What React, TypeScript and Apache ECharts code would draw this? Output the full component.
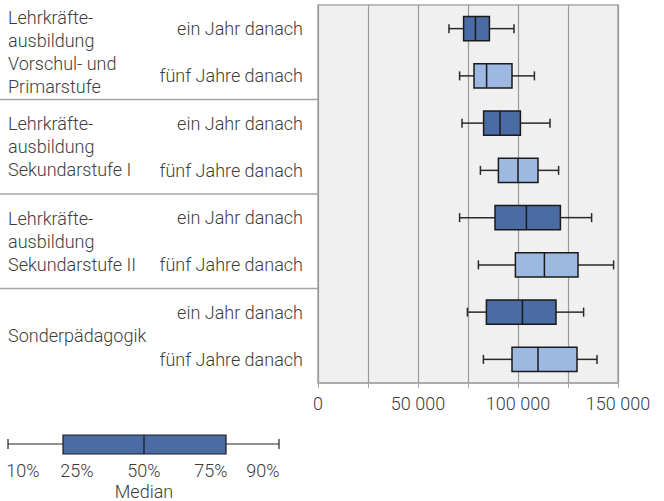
import React, { useEffect, useRef } from "react";
import * as echarts from "echarts";

const rowLabels = [
  "ein Jahr danach",
  "fünf Jahre danach",
  "ein Jahr danach",
  "fünf Jahre danach",
  "ein Jahr danach",
  "fünf Jahre danach",
  "ein Jahr danach",
  "fünf Jahre danach",
];

const groupLabels = [
  "Lehrkräfte-\nausbildung\nVorschul- und\nPrimarstufe",
  "Lehrkräfte-\nausbildung\nSekundarstufe I",
  "Lehrkräfte-\nausbildung\nSekundarstufe II",
  "Sonderpädagogik",
];

// [p10, p25, median, p75, p90]
const p10 = [65500, 70800, 72000, 81200, 70800, 80200, 74700, 82700];
const p25 = [72800, 78000, 82800, 90200, 88500, 98700, 84200, 97000];
const p50 = [78700, 84300, 91000, 100000, 104200, 113200, 102200, 110000];
const p75 = [85700, 97000, 101200, 110000, 121200, 130000, 119000, 129500];
const p90 = [98000, 108200, 116000, 120300, 136800, 147800, 132800, 139500];

const legendLabels = ["10%", "25%", "50%", "75%", "90%"];

const DARK = "#4a6ba4";
const LIGHT = "#9db9e2";
const TEXT = "#3c3c3c";
const FONT = "Roboto";
const FS = 18;

const W = 664;
const H = 501;
const GRID_LEFT = 318;
const GRID_TOP = 5;
const GRID_W = 300;
const GRID_H = 378;

function fmt(v: number) {
  return String(v).replace(/\B(?=(\d{3})+(?!\d))/g, " ");
}

export default function App() {
  const ref = useRef<HTMLDivElement>(null);
  useEffect(() => {
    if (!ref.current) return;
    const chart = echarts.init(ref.current, null, { renderer: "svg" });
    const data = rowLabels.map((_, i) => [i, p10[i], p25[i], p50[i], p75[i], p90[i]]);

    const separators = [1, 2, 3].map((k) => {
      const y = GRID_TOP + (k * GRID_H) / 4;
      return {
        type: "line",
        shape: { x1: 0, y1: y, x2: GRID_LEFT, y2: y },
        style: { stroke: "#a6a6a6", lineWidth: 1.5 },
      };
    });

    // legend key
    const lgY = 444;
    const lgLeft = 8, lgQ1 = 63, lgMed = 144, lgQ3 = 226, lgRight = 279;
    const legendEls: any[] = [
      { type: "line", shape: { x1: lgLeft, y1: lgY, x2: lgQ1, y2: lgY }, style: { stroke: "#222", lineWidth: 1.2 } },
      { type: "line", shape: { x1: lgQ3, y1: lgY, x2: lgRight, y2: lgY }, style: { stroke: "#222", lineWidth: 1.2 } },
      { type: "line", shape: { x1: lgLeft, y1: lgY - 5, x2: lgLeft, y2: lgY + 5 }, style: { stroke: "#222", lineWidth: 1.2 } },
      { type: "line", shape: { x1: lgRight, y1: lgY - 5, x2: lgRight, y2: lgY + 5 }, style: { stroke: "#222", lineWidth: 1.2 } },
      { type: "rect", shape: { x: lgQ1, y: 435, width: lgQ3 - lgQ1, height: 19 }, style: { fill: DARK, stroke: "#1a1a1a", lineWidth: 1.2 } },
      { type: "line", shape: { x1: lgMed, y1: 435, x2: lgMed, y2: 454 }, style: { stroke: "#1a1a1a", lineWidth: 1.2 } },
    ];
    const lgPos = [23, 77, 144, 211, 263];
    legendLabels.forEach((t, i) => {
      legendEls.push({
        type: "text",
        x: lgPos[i],
        y: 470,
        style: { text: t, fill: TEXT, font: `300 ${FS}px ${FONT}`, align: "center", verticalAlign: "middle" },
      });
    });
    legendEls.push({
      type: "text",
      x: 144,
      y: 491,
      style: { text: "Median", fill: TEXT, font: `300 ${FS}px ${FONT}`, align: "center", verticalAlign: "middle" },
    });

    chart.setOption({
      animation: false,
      textStyle: { fontFamily: FONT },
      grid: {
        left: GRID_LEFT,
        top: GRID_TOP,
        width: GRID_W,
        height: GRID_H,
        show: true,
        backgroundColor: "#f0f0f0",
        borderColor: "#a6a6a6",
        borderWidth: 1.5,
      },
      xAxis: {
        type: "value",
        min: 0,
        max: 150000,
        interval: 25000,
        axisLine: { show: true, lineStyle: { color: "#a6a6a6", width: 1.5 } },
        axisTick: { show: true, length: 5, lineStyle: { color: "#a6a6a6" } },
        splitLine: { show: true, lineStyle: { color: "#9a9a9a", width: 1.2 } },
        axisLabel: {
          margin: 11,
          fontSize: FS,
          fontWeight: 300,
          color: TEXT,
          formatter: (v: number) => (v % 50000 === 0 ? fmt(v) : ""),
        },
      },
      yAxis: [
        {
          type: "category",
          data: rowLabels,
          inverse: true,
          axisLine: { show: false },
          axisTick: { show: false },
          splitLine: { show: false },
          axisLabel: { interval: 0, margin: 15, fontSize: FS, fontWeight: 300, color: TEXT },
        },
        {
          type: "category",
          data: groupLabels,
          inverse: true,
          position: "left",
          axisLine: { show: false },
          axisTick: { show: false },
          splitLine: { show: false },
          axisLabel: {
            interval: 0,
            margin: 310,
            align: "left",
            fontSize: FS,
            fontWeight: 300,
            lineHeight: 23,
            color: TEXT,
          },
        },
      ],
      series: [
        {
          type: "custom",
          yAxisIndex: 0,
          encode: { x: [1, 2, 3, 4, 5], y: 0 },
          data,
          renderItem: (params: any, api: any) => {
            const cat = api.value(0);
            const vals = [1, 2, 3, 4, 5].map((d) => api.coord([api.value(d), cat]));
            const y = vals[0][1];
            const band = api.size([0, 1])[1];
            const bh = band * 0.51;
            const cap = 9;
            const fill = cat % 2 === 0 ? DARK : LIGHT;
            const ws = { stroke: "#2a2a2a", lineWidth: 1.5 };
            const [xMin, xQ1, xMed, xQ3, xMax] = vals.map((v: number[]) => v[0]);
            return {
              type: "group",
              children: [
                { type: "line", shape: { x1: xMin, y1: y, x2: xQ1, y2: y }, style: ws },
                { type: "line", shape: { x1: xQ3, y1: y, x2: xMax, y2: y }, style: ws },
                { type: "line", shape: { x1: xMin, y1: y - cap / 2, x2: xMin, y2: y + cap / 2 }, style: ws },
                { type: "line", shape: { x1: xMax, y1: y - cap / 2, x2: xMax, y2: y + cap / 2 }, style: ws },
                {
                  type: "rect",
                  shape: { x: xQ1, y: y - bh / 2, width: xQ3 - xQ1, height: bh },
                  style: { fill, stroke: "#1a1a1a", lineWidth: 1.5 },
                },
                {
                  type: "line",
                  shape: { x1: xMed, y1: y - bh / 2, x2: xMed, y2: y + bh / 2 },
                  style: { stroke: "#1a1a1a", lineWidth: 1.5 },
                },
              ],
            };
          },
        },
      ],
      graphic: [...separators, ...legendEls],
    });
    return () => chart.dispose();
  }, []);
  return (
    <div
      ref={ref}
      style={{ position: "absolute", left: 0, top: 0, width: W, height: H }}
    />
  );
}
